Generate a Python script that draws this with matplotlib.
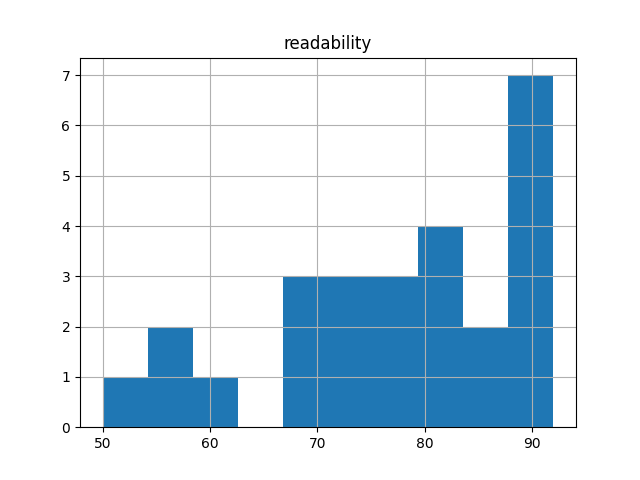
import matplotlib
matplotlib.use("Agg")
import matplotlib.pyplot as plt

title = "readability"
values = [50, 55, 57, 60, 68, 69, 70, 72, 73, 74, 76, 77, 78, 80, 81, 82, 83,
          85, 86, 88, 89, 90, 90, 91, 91, 92]
n_bins = 10

fig, ax = plt.subplots(figsize=(6.4, 4.8), dpi=100)
ax.hist(values, bins=n_bins, color="#1f77b4")
ax.grid(True)
ax.set_title(title)
fig.savefig("out.png")
